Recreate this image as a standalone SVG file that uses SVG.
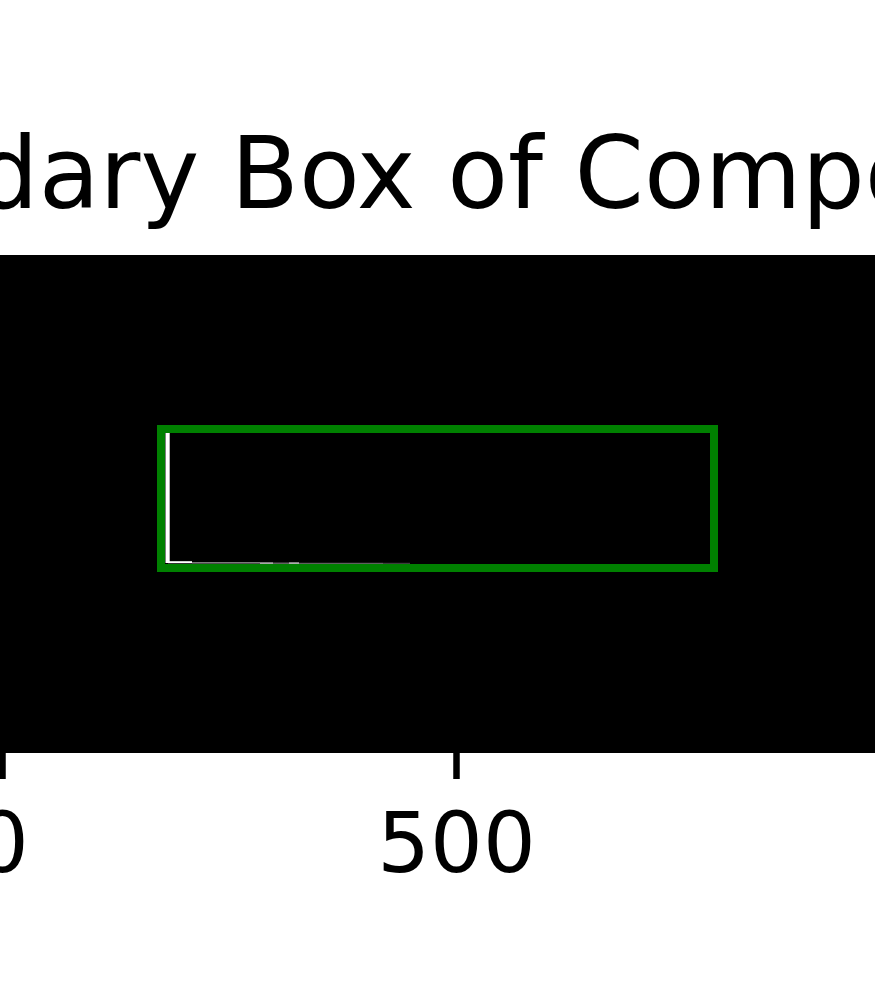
<svg xmlns="http://www.w3.org/2000/svg" width="875" height="1008" viewBox="0 0 875 1008">
  <style>
    .title { font-family: "DejaVu Sans", sans-serif; font-size: 99.4px; fill: #000; }
    .tick-label { font-family: "DejaVu Sans", sans-serif; font-size: 83px; fill: #000; text-anchor: middle; }
    .tick { stroke: #000; stroke-width: 6.5; }
  </style>
  <rect x="0" y="0" width="875" height="1008" fill="#ffffff"/>
  <g id="title">
    <text class="title" x="-279.4" y="208">Boundary Box of Component</text>
  </g>
  <g id="image">
    <rect x="0" y="255" width="875" height="498" fill="#000000"/>
    <g id="contour">
      <rect x="165.5" y="433" width="4.2" height="130" fill="#ffffff"/>
      <rect x="168" y="561.2" width="24" height="2" fill="#ffffff"/>
      <rect x="192" y="562.2" width="68" height="1.3" fill="#9a9a9a"/>
      <rect x="260" y="562.4" width="13" height="1.4" fill="#d0d0d0"/>
      <rect x="273" y="562.6" width="16" height="1.2" fill="#7a7a7a"/>
      <rect x="289" y="562.4" width="10" height="1.4" fill="#d8d8d8"/>
      <rect x="299" y="562.8" width="84" height="1.1" fill="#6a6a6a"/>
      <rect x="383" y="562.8" width="27" height="1.1" fill="#444444"/>
    </g>
  </g>
  <g id="bbox">
    <rect x="161" y="429" width="553" height="139" fill="none" stroke="#008000" stroke-width="8"/>
  </g>
  <g id="x-axis">
    <line class="tick" x1="2.5" y1="750" x2="2.5" y2="779"/>
    <line class="tick" x1="456.5" y1="750" x2="456.5" y2="779"/>
    <text class="tick-label" x="2.5" y="872">0</text>
    <text class="tick-label" x="456.5" y="872">500</text>
  </g>
</svg>
